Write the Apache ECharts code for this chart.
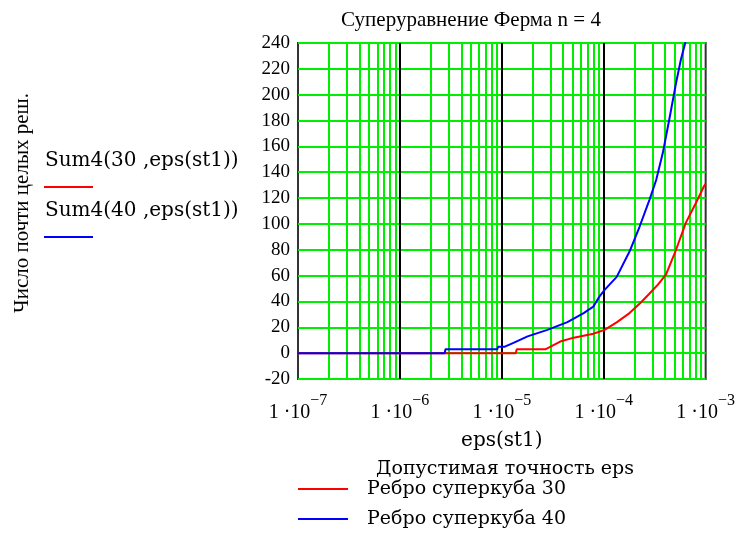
<!DOCTYPE html>
<html><head><meta charset="utf-8">
<script src="https://cdn.jsdelivr.net/npm/echarts@6/dist/echarts.min.js"></script>
<style>html,body{margin:0;padding:0;background:#fff}#c{width:738px;height:538px}</style>
</head><body><div id="c"></div>
<script>
// ---- texts ----
const titleText = 'Суперуравнение Ферма n = 4';
const yAxisName = 'Число почти целых реш.';
const xAxisName = 'eps(st1)';
const xAxisSubName = 'Допустимая точность eps';
const seriesNames = ['Ребро суперкуба 30', 'Ребро суперкуба 40'];
const exprNames = ['Sum4(30 ,eps(st1))', 'Sum4(40 ,eps(st1))'];
// ---- axes ----
const xDecades = [-7, -6, -5, -4, -3];
const minorMultipliers = [2, 3, 4, 5, 6, 7, 8, 9];
const yMin = -20, yMax = 240, yStep = 20;
// ---- data ----
const eps30 = [1e-7, 1e-6, 1e-5, 1.37e-5, 1.4e-5, 2.67e-5, 3.74e-5, 5.08e-5, 7.9e-5, 1.02e-4, 1.35e-4, 1.79e-4, 2.3e-4, 2.8e-4, 3.4e-4, 4.09e-4, 5.12e-4, 6.4e-4, 8.0e-4, 9.6e-4, 1e-3];
const sum30 = [0, 0, 0, 0, 3, 3, 9, 12, 15, 18, 24, 31, 39, 46, 53, 61, 80, 101, 116, 129, 131];
const eps40 = [1e-7, 1e-6, 2.75e-6, 2.8e-6, 9.0e-6, 9.2e-6, 1.07e-5, 1.3e-5, 1.79e-5, 2.8e-5, 4.4e-5, 6.35e-5, 7.9e-5, 9.1e-5, 1.02e-4, 1.34e-4, 1.8e-4, 2.25e-4, 2.82e-4, 3.27e-4, 3.8e-4, 4.4e-4, 5.12e-4, 5.71e-4, 6.3e-4, 7.0e-4];
const sum40 = [0, 0, 0, 3, 3, 5, 5, 8, 13, 18, 24, 31, 36, 44, 49, 59, 79, 98, 119, 134, 155, 181, 209, 227, 240, 262];

const SERIF = '"Liberation Serif", "Times New Roman", serif';
const WSERIF = '"DejaVu Serif", serif';
const GREEN = '#00ee00';

const toPairs = (xs, ys) => xs.map((x, i) => [x, ys[i]]);

// vertical grid lines of the log axis (minor: green, inner decades: black)
const vLines = [];
xDecades.slice(0, -1).forEach(d => {
  minorMultipliers.forEach(k => {
    const x = k * Math.pow(10, d);
    vLines.push({ coords: [[x, yMin], [x, yMax]], lineStyle: { color: GREEN } });
  });
});
xDecades.slice(1, -1).forEach(d => {
  const x = Math.pow(10, d);
  vLines.push({ coords: [[x, yMin], [x, yMax]], lineStyle: { color: '#000' } });
});

const chart = echarts.init(document.getElementById('c'), null, { renderer: 'canvas' });
chart.setOption({
  animation: false,
  backgroundColor: '#fff',
  grid: { left: 298, right: 28, top: 43, bottom: 159, show: true, borderColor: '#333', borderWidth: 2, backgroundColor: 'transparent' },
  xAxis: {
    type: 'log', logBase: 10,
    min: Math.pow(10, xDecades[0]), max: Math.pow(10, xDecades[xDecades.length - 1]),
    axisLine: { show: false }, axisTick: { show: false },
    splitLine: { show: false },
    name: xAxisName, nameLocation: 'middle', nameGap: 52,
    nameTextStyle: { fontFamily: WSERIF, fontSize: 20, color: '#000' },
    axisLabel: {
      margin: 14, color: '#000',
      formatter: v => '{b|1 ·10}{s|−' + Math.abs(Math.round(Math.log10(v))) + '}',
      rich: {
        b: { fontFamily: SERIF, fontSize: 20, lineHeight: 30, verticalAlign: 'bottom', color: '#000' },
        s: { fontFamily: SERIF, fontSize: 16, lineHeight: 16, verticalAlign: 'top', color: '#000' }
      }
    }
  },
  yAxis: {
    type: 'value', min: yMin, max: yMax, interval: yStep,
    axisLine: { show: false }, axisTick: { show: false },
    splitLine: { show: true, lineStyle: { color: GREEN, width: 2 } },
    axisLabel: { margin: 8, fontFamily: SERIF, fontSize: 19, color: '#000' }
  },
  legend: {
    orient: 'vertical', left: 298, top: 479, padding: 0, itemWidth: 50, itemHeight: 2, icon: 'rect',
    itemGap: 10, data: seriesNames, selectedMode: false,
    textStyle: { fontFamily: WSERIF, fontSize: 19, color: '#000', padding: [0, 0, 0, 14], lineHeight: 20 }
  },
  graphic: [
    { type: 'text', x: 471, y: 20, style: { text: titleText, fontFamily: SERIF, fontSize: 21, fill: '#000', align: 'center', verticalAlign: 'middle' } },
    { type: 'text', x: 22, y: 203, rotation: Math.PI / 2, style: { text: yAxisName, fontFamily: SERIF, fontSize: 21, fill: '#000', align: 'center', verticalAlign: 'middle' } },
    { type: 'text', x: 505, y: 469, style: { text: xAxisSubName, fontFamily: WSERIF, fontSize: 19, fill: '#000', align: 'center', verticalAlign: 'middle' } },
    { type: 'text', x: 45, y: 161, style: { text: exprNames[0], fontFamily: WSERIF, fontSize: 20, fill: '#000', align: 'left', verticalAlign: 'middle' } },
    { type: 'line', shape: { x1: 44, y1: 187, x2: 93, y2: 187 }, style: { stroke: '#ff0000', lineWidth: 2 } },
    { type: 'text', x: 45, y: 211, style: { text: exprNames[1], fontFamily: WSERIF, fontSize: 20, fill: '#000', align: 'left', verticalAlign: 'middle' } },
    { type: 'line', shape: { x1: 44, y1: 237, x2: 93, y2: 237 }, style: { stroke: '#0000ff', lineWidth: 2 } }
  ],
  series: [
    {
      name: 'grid', type: 'lines', coordinateSystem: 'cartesian2d', z: 1, silent: true,
      lineStyle: { width: 2, opacity: 1, curveness: 0 }, data: vLines
    },
    {
      name: seriesNames[0], type: 'line', data: toPairs(eps30, sum30), z: 3,
      showSymbol: false, symbol: 'none', lineStyle: { color: '#ff0000', width: 2 }, itemStyle: { color: '#ff0000' }
    },
    {
      name: seriesNames[1], type: 'line', data: toPairs(eps40, sum40), z: 4,
      showSymbol: false, symbol: 'none', lineStyle: { color: '#0000ff', width: 2 }, itemStyle: { color: '#0000ff' }
    }
  ]
});
</script>
</body></html>
